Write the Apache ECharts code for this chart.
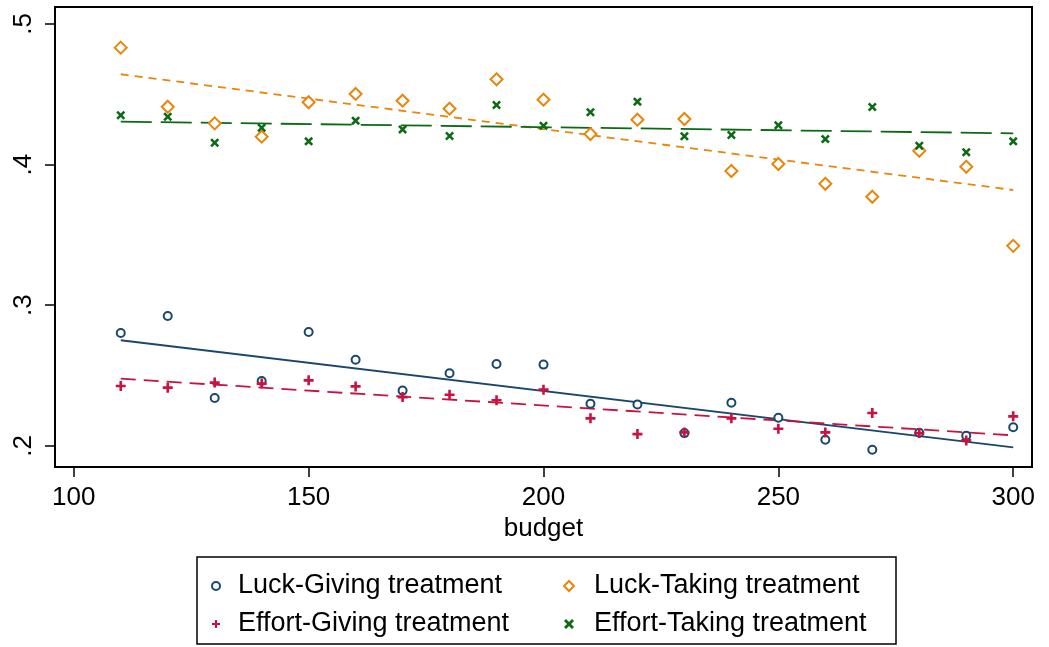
<!DOCTYPE html>
<html>
<head>
<meta charset="utf-8">
<script src="https://cdn.jsdelivr.net/npm/echarts@6/dist/echarts.min.js"></script>
<style>html,body{margin:0;padding:0;background:#fff}#c{width:1049px;height:647px}</style>
</head>
<body>
<div id="c"></div>
<script>
const budgets = [110,120,130,140,150,160,170,180,190,200,210,220,230,240,250,260,270,280,290,300];
const luckGiving   = [0.2803,0.2924,0.2340,0.2461,0.2810,0.2613,0.2393,0.2516,0.2582,0.2578,0.2300,0.2295,0.2091,0.2307,0.2200,0.2044,0.1973,0.2094,0.2073,0.2132];
const luckTaking   = [0.4831,0.4411,0.4293,0.4198,0.4443,0.4502,0.4454,0.4397,0.4606,0.4461,0.4217,0.4319,0.4324,0.3954,0.4004,0.3863,0.3771,0.4098,0.3984,0.3422];
const effortGiving = [0.2426,0.2414,0.2450,0.2443,0.2466,0.2423,0.2347,0.2364,0.2324,0.2400,0.2196,0.2084,0.2096,0.2196,0.2122,0.2096,0.2234,0.2091,0.2039,0.2210];
const effortTaking = [0.4350,0.4340,0.4155,0.4262,0.4165,0.4312,0.4250,0.4203,0.4423,0.4276,0.4372,0.4447,0.4201,0.4210,0.4279,0.4181,0.4409,0.4134,0.4087,0.4165];
// fitted-line endpoints [budget, value]
const fitX = [110, 300];
const luckGivingFit   = [0.2751, 0.1989];
const luckTakingFit   = [0.4642, 0.3819];
const effortGivingFit = [0.2478, 0.2075];
const effortTakingFit = [0.4305, 0.4222];
const xTicks = [100,150,200,250,300];
const yTicks = [0.2,0.3,0.4,0.5];
const names = ['Luck-Giving treatment','Luck-Taking treatment','Effort-Giving treatment','Effort-Taking treatment'];

const NAVY='#1a476f', ORANGE='#e8860c', RED='#cc1040', GREEN='#0b6b14';
const PLUS='path://M3.7,0H6.3V3.7H10V6.3H6.3V10H3.7V6.3H0V3.7H3.7Z';
const CROSS='path://M2,0L5,3L8,0L10,2L7,5L10,8L8,10L5,7L2,10L0,8L3,5L0,2Z';
const FONT='"Liberation Sans", Arial, sans-serif';

const pairs = (ys) => budgets.map((b,i)=>[b, ys[i]]);
const fitPairs = (ys) => fitX.map((b,i)=>[b, ys[i]]);

const chart = echarts.init(document.getElementById('c'), null, {renderer:'canvas'});
chart.setOption({
  animation:false,
  backgroundColor:'#fff',
  textStyle:{fontFamily:FONT},
  grid:{left:55, top:7, right:17, bottom:180, show:true, borderColor:'#000', borderWidth:2, backgroundColor:'#fff'},
  xAxis:{
    type:'value', min:96, max:304,
    name:'budget', nameLocation:'middle', nameGap:46,
    nameTextStyle:{fontSize:26, color:'#000', fontFamily:FONT},
    axisLine:{show:false, onZero:false},
    axisTick:{show:true, length:10, lineStyle:{color:'#000', width:1.5}, customValues:xTicks},
    axisLabel:{fontSize:26, color:'#000', margin:18, fontFamily:FONT, customValues:xTicks},
    splitLine:{show:false}
  },
  yAxis:{
    type:'value', min:0.185, max:0.512,
    axisLine:{show:false, onZero:false},
    axisTick:{show:true, length:10, lineStyle:{color:'#000', width:1.5}, customValues:yTicks},
    axisLabel:{fontSize:26, color:'#000', margin:18, rotate:90, fontFamily:FONT, customValues:yTicks,
      formatter:(v)=>String(v).replace(/^0\./,'.')},
    splitLine:{show:false}
  },
  legend:[
    {orient:'vertical', left:211, top:571, padding:0, itemGap:8, itemWidth:8, itemHeight:8,
     selectedMode:false, data:[names[0], names[2]],
     textStyle:{fontSize:27, lineHeight:30, color:'#000', fontFamily:FONT, padding:[0,0,0,13]}},
    {orient:'vertical', left:563, top:571, padding:0, itemGap:8, itemWidth:10, itemHeight:10,
     selectedMode:false, data:[names[1], names[3]],
     textStyle:{fontSize:27, lineHeight:30, color:'#000', fontFamily:FONT, padding:[0,0,0,15]}}
  ],
  graphic:[{type:'rect', shape:{x:197, y:557, width:699, height:87},
    style:{fill:'none', stroke:'#000', lineWidth:1.5}, silent:true}],
  series:[
    {name:'Luck-Giving fit', type:'line', data:fitPairs(luckGivingFit), symbol:'none', z:1,
     lineStyle:{color:NAVY, width:1.8, type:'solid'}},
    {name:'Luck-Taking fit', type:'line', data:fitPairs(luckTakingFit), symbol:'none', z:1,
     lineStyle:{color:ORANGE, width:1.8, type:[8,6]}},
    {name:'Effort-Giving fit', type:'line', data:fitPairs(effortGivingFit), symbol:'none', z:1,
     lineStyle:{color:RED, width:1.8, type:[15,8]}},
    {name:'Effort-Taking fit', type:'line', data:fitPairs(effortTakingFit), symbol:'none', z:1,
     lineStyle:{color:GREEN, width:1.8, type:[31,9]}},
    {name:names[0], type:'scatter', data:pairs(luckGiving), symbol:'circle', symbolSize:8, z:3,
     itemStyle:{color:'#fff', borderColor:NAVY, borderWidth:2, opacity:1}},
    {name:names[1], type:'scatter', data:pairs(luckTaking), symbol:'diamond', symbolSize:12, z:3,
     itemStyle:{color:'#fff', borderColor:ORANGE, borderWidth:2, opacity:1}},
    {name:names[2], type:'scatter', data:pairs(effortGiving), symbol:PLUS, symbolSize:10, z:3,
     itemStyle:{color:RED, borderWidth:0, opacity:1}},
    {name:names[3], type:'scatter', data:pairs(effortTaking), symbol:CROSS, symbolSize:9, z:3,
     itemStyle:{color:GREEN, borderWidth:0, opacity:1}}
  ]
});
</script>
</body>
</html>
